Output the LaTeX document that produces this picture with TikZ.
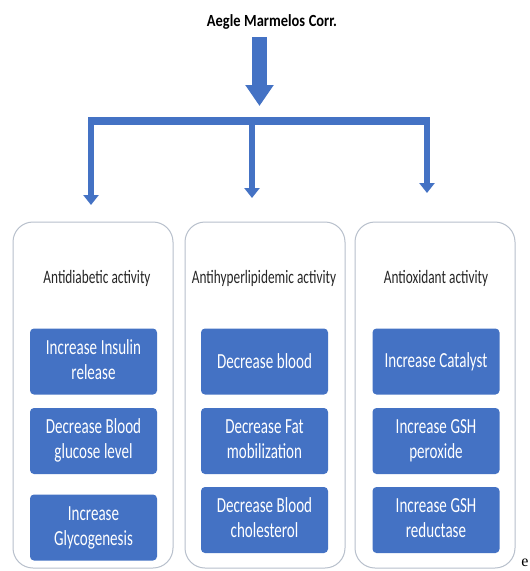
\documentclass[tikz,border=0pt]{standalone}
\usepackage{fontspec}
\setmainfont{Carlito}
\newfontfamily\condfont[FakeStretch=0.70]{Carlito}
\newfontfamily\headfont[FakeStretch=0.85]{Carlito}
\newfontfamily\serfont{Liberation Serif}
\newcommand\myboxfnt{\condfont\fontsize{21.5}{25}\selectfont\spaceskip=3.6pt\relax}
\newcommand\mytitfnt{\condfont\fontsize{19}{21}\selectfont\spaceskip=3.2pt\relax}
\newcommand\myheadfnt{\headfont\bfseries\fontsize{17}{20}\selectfont\spaceskip=3.6pt\relax}
\newcommand\mylines[1]{\begin{tabular}{@{}c@{}}#1\end{tabular}}
\usetikzlibrary{arrows.meta}
\definecolor{obl}{HTML}{4472C4}
\definecolor{pbord}{HTML}{B8C0CC}
\begin{document}
\begin{tikzpicture}[x=1pt,y=-1pt,
  panel/.style={draw=pbord, line width=1pt, rounded corners=20pt, minimum width=160pt, minimum height=346pt, inner sep=0pt},
  bbox/.style={fill=obl, draw=none, rounded corners=4pt, minimum width=127pt, minimum height=66pt, text=white, font=\myboxfnt, inner sep=0pt},
  ptitle/.style={font=\mytitfnt, text=black!85, inner sep=0pt},
  flow/.style={draw=obl, line width=6pt, -{Triangle[width=15pt,length=10pt]}},
]
\useasboundingbox[fill=white] (0,0) rectangle (530,571);

\node[font=\myheadfnt, inner sep=0pt] (title) at (272,22) {Aegle Marmelos Corr.};

\coordinate (top) at (259.5,37);
\coordinate (hub) at (259.5,106);
\draw[draw=obl, line width=15pt, -{Triangle[width=27pt,length=21pt]}] (top) -- (hub);

\coordinate (bl) at (88,121);
\coordinate (br) at (430,121);
\draw[obl, line width=8pt] (bl) -- (br);

\coordinate (l0) at (91,121);   \coordinate (l1) at (91,205);
\coordinate (m0) at (252,121);  \coordinate (m1) at (252,198);
\coordinate (r0) at (427,121);  \coordinate (r1) at (427,193);
\draw[flow] (l0) -- (l1);
\draw[flow] (m0) -- (m1);
\draw[flow] (r0) -- (r1);

\node[panel] (p1) at (93,395) {};
\node[panel] (p2) at (265,395) {};
\node[panel] (p3) at (435,395) {};

\node[ptitle] (t1) at (97,278) {Antidiabetic activity};
\node[ptitle] (t2) at (264,278) {Antihyperlipidemic activity};
\node[ptitle] (t3) at (436,278) {Antioxidant activity};

\node[bbox] (a1) at (93.5,361.5) {\mylines{Increase Insulin\\release}};
\node[bbox] (a2) at (93.5,441) {\mylines{Decrease Blood\\glucose level}};
\node[bbox] (a3) at (93.5,527.5) {\mylines{Increase\\Glycogenesis}};

\node[bbox] (b1) at (264.5,361.5) {Decrease blood};
\node[bbox] (b2) at (264.5,441) {\mylines{Decrease Fat\\mobilization}};
\node[bbox] (b3) at (264.5,520) {\mylines{Decrease Blood\\cholesterol}};

\node[bbox] (c1) at (436,361.5) {Increase Catalyst};
\node[bbox] (c2) at (436,441) {\mylines{Increase GSH\\peroxide}};
\node[bbox] (c3) at (436,520) {\mylines{Increase GSH\\reductase}};

\node[font=\serfont\fontsize{16}{18}\selectfont, inner sep=0pt] (e) at (525,563) {e};
\end{tikzpicture}
\end{document}
